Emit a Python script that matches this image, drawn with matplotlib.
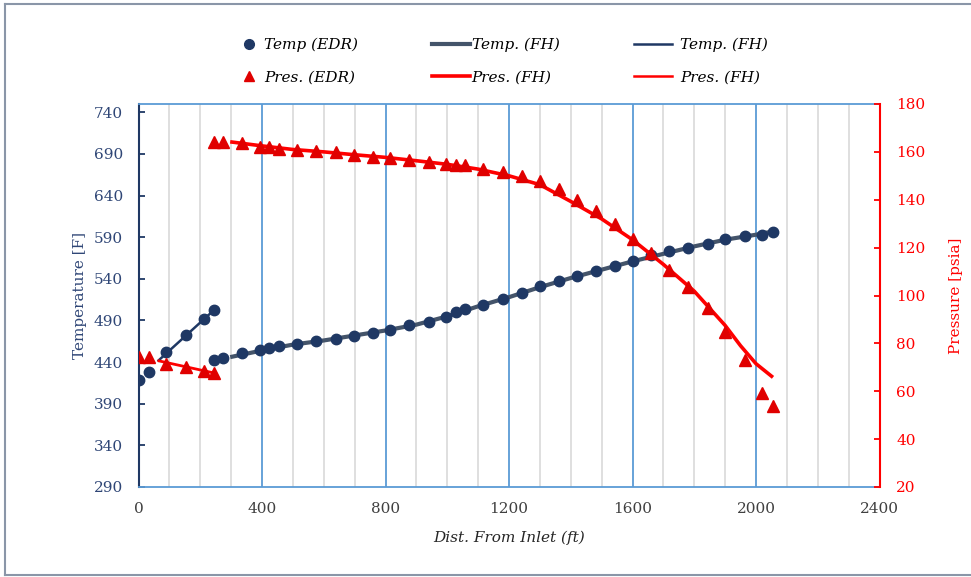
import matplotlib
matplotlib.use("Agg")
import matplotlib.pyplot as plt
from matplotlib.lines import Line2D
from matplotlib.ticker import MultipleLocator

# ---------------- data ----------------
dist_edr = [0, 35, 90, 155, 211, 245, 245, 274, 336, 394, 423, 456, 514, 575, 639,
            698, 758, 814, 876, 940, 997, 1027, 1059, 1117, 1180, 1241, 1299, 1361,
            1419, 1481, 1544, 1600, 1661, 1718, 1781, 1843, 1901, 1963, 2021, 2055]
temp_edr = [418, 428, 452, 473, 492, 503, 443, 445, 451, 454.5, 457.5, 459.5, 462,
            465, 468, 471.5, 475.5, 479, 484, 488, 494, 500.5, 504, 509, 516, 523,
            532, 538, 543, 549.5, 555.5, 561, 569, 573, 577, 582, 587.5, 591, 593, 596]
pres_edr = [74.2, 74.2, 71.5, 70.3, 68.6, 67.6, 164.2, 164.2, 163.5, 162.1, 162.1,
            161.4, 160.7, 160.3, 159.8, 158.6, 157.9, 157.3, 156.8, 155.6, 155, 154.7,
            154.7, 153, 151.6, 149.8, 147.9, 144.3, 140.1, 135.2, 129.7, 123.8, 117.7,
            110.8, 103.5, 94.8, 84.9, 73.1, 59.1, 53.9]

dist_fh_t = [297, 400, 500, 600, 700, 800, 900, 1000, 1100, 1200, 1300, 1400, 1500,
             1600, 1700, 1800, 1900, 2000, 2055]
temp_fh = [446, 454, 461, 466, 472, 478, 485, 495, 507, 518, 530, 541, 551, 561, 570,
           579, 587, 593, 597]

dist_fh_p = [297, 400, 500, 600, 700, 800, 900, 1000, 1100, 1200, 1300, 1400, 1500,
             1600, 1700, 1800, 1900, 1950, 2000, 2055]
pres_fh = [164.2, 162.5, 161, 160, 158.8, 157.7, 156.3, 154.8, 152.8, 150, 146.3,
           139.3, 132, 123.3, 113, 101.8, 87.5, 79, 71.5, 65.8]

dist_fh2 = [62, 246]
temp_fh2 = [441, 503]
pres_fh2 = [72.8, 67.6]

x_ticks = [0, 400, 800, 1200, 1600, 2000, 2400]
t_ticks = [290, 340, 390, 440, 490, 540, 590, 640, 690, 740]
p_ticks = [20, 40, 60, 80, 100, 120, 140, 160, 180]

# ---------------- style ----------------
SERIF = ["DejaVu Serif", "Liberation Serif"]
plt.rcParams["font.family"] = SERIF
NAVY = "#1F3864"
SLATE = "#44546A"
RED = "#FF0000"
TRI = "#E00000"
BLUE = "#5B9BD5"
GRAY = "#D9D9D9"

fig = plt.figure(figsize=(9.71, 5.77), dpi=100)
ax = fig.add_axes([138.5 / 971, 1 - 487 / 577, (879.5 - 138.5) / 971, (487 - 104) / 577])
ax2 = ax.twinx()

ax.set_xlim(0, 2400)
ax.set_ylim(290, 750)
ax2.set_ylim(20, 180)

ax.xaxis.set_minor_locator(MultipleLocator(100))
ax.set_xticks(x_ticks)
ax.grid(True, which="minor", axis="x", color=GRAY, lw=1.2, zorder=0)
ax.grid(True, which="major", axis="x", color=BLUE, lw=1.3, zorder=0)
ax.set_axisbelow(True)

ax.set_yticks(t_ticks)
ax2.set_yticks(p_ticks)

# lines
ax.plot(dist_fh_t, temp_fh, color=SLATE, lw=3.0, solid_capstyle="butt", zorder=2)
ax.plot(dist_fh2, temp_fh2, color=NAVY, lw=1.8, solid_capstyle="butt", zorder=2)
ax.plot(dist_edr, temp_edr, ls="none", marker="o", ms=7.5, color=NAVY, zorder=3)

ax2.plot(dist_fh_p, pres_fh, color=RED, lw=2.6, solid_capstyle="butt", zorder=2)
ax2.plot(dist_fh2, pres_fh2, color=RED, lw=2.0, solid_capstyle="butt", zorder=2)
ax2.plot(dist_edr, pres_edr, ls="none", marker="^", ms=8, color=TRI, zorder=3)

# spines
for s in ["top", "bottom"]:
    ax.spines[s].set_color(BLUE)
    ax.spines[s].set_linewidth(1.3)
ax.spines["left"].set_color(NAVY)
ax.spines["left"].set_linewidth(1.5)
ax.spines["right"].set_visible(False)
for s in ["top", "bottom", "left"]:
    ax2.spines[s].set_visible(False)
ax2.spines["right"].set_color(RED)
ax2.spines["right"].set_linewidth(1.5)

tfs = 11
ax.tick_params(axis="x", which="both", length=0, pad=11, labelsize=tfs, labelcolor="#404040")
ax.tick_params(axis="y", direction="in", length=4, width=1.3, color=NAVY, pad=11,
               labelsize=tfs, labelcolor="#2F4676")
ax2.tick_params(axis="y", direction="in", length=4, width=1.3, color=RED, pad=12,
                labelsize=tfs, labelcolor=RED)

ax.set_xlabel("Dist. From Inlet (ft)", fontsize=11, style="italic", color="#262626", labelpad=10)
ax.set_ylabel("Temperature [F]", fontsize=11, color="#2F4676", labelpad=5)
ax2.set_ylabel("Pressure [psia]", fontsize=11, color=RED, labelpad=17)

# legend (three columns)
lfs = 11
h1 = [Line2D([], [], ls="none", marker="o", ms=7, color=NAVY),
      Line2D([], [], ls="none", marker="^", ms=7, color=TRI)]
h2 = [Line2D([], [], color=SLATE, lw=3.0), Line2D([], [], color=RED, lw=2.6)]
h3 = [Line2D([], [], color=NAVY, lw=1.8), Line2D([], [], color=RED, lw=1.8)]
ycen = 1 - 61 / 577
common = dict(loc="center left", frameon=False, borderpad=0, borderaxespad=0,
              labelspacing=1.2, prop={"family": SERIF, "style": "italic", "size": lfs})
fig.legend(h1, ["Temp (EDR)", "Pres. (EDR)"], bbox_to_anchor=(241 / 971, ycen),
           handlelength=1.0, handletextpad=0.5, **common)
fig.legend(h2, ["Temp. (FH)", "Pres. (FH)"], bbox_to_anchor=(432 / 971, ycen),
           handlelength=2.5, handletextpad=0.1, **common)
fig.legend(h3, ["Temp. (FH)", "Pres. (FH)"], bbox_to_anchor=(634 / 971, ycen),
           handlelength=2.5, handletextpad=0.5, **common)

# outer border (top, left, bottom)
bc = "#8A96A8"
fig.add_artist(Line2D([5 / 971, 1], [1 - 4 / 577, 1 - 4 / 577], color=bc, lw=1.5,
                      transform=fig.transFigure))
fig.add_artist(Line2D([5 / 971, 5 / 971], [1 - 575 / 577, 1 - 4 / 577], color=bc, lw=1.5,
                      transform=fig.transFigure))
fig.add_artist(Line2D([5 / 971, 1], [1 - 575 / 577, 1 - 575 / 577], color=bc, lw=1.5,
                      transform=fig.transFigure))

fig.savefig("out.png", dpi=100)
